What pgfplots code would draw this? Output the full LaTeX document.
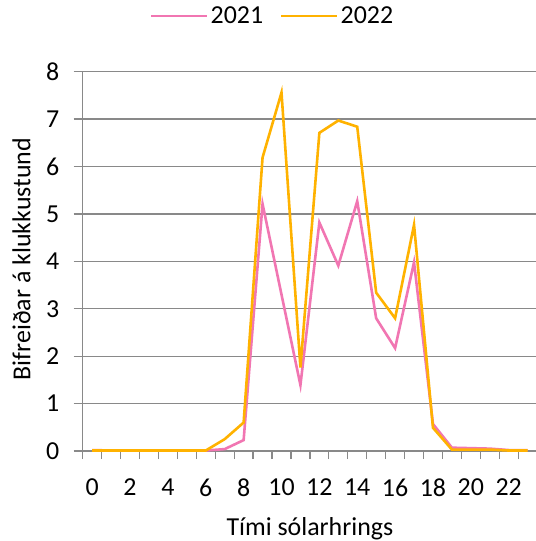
\documentclass[border=0pt]{standalone}
\usepackage{pgfplots}
\pgfplotsset{compat=1.18}
\usepackage{fontspec}
\setmainfont{Carlito}
\definecolor{pinkline}{RGB}{241,118,178}
\definecolor{orangeline}{RGB}{255,178,0}
\definecolor{gridgray}{RGB}{137,137,137}
\begin{document}
\begin{tikzpicture}
\path[use as bounding box] (-82.7bp,-90bp) rectangle (453.3bp,451bp);
\begin{axis}[
  at={(0,0)}, anchor=south west,
  scale only axis, width=454.4bp, height=379.3bp,
  xmin=-0.5, xmax=23.5, ymin=0, ymax=8,
  axis x line=bottom, axis y line=left,
  axis line style={gridgray, line width=1.3bp, -},
  xtick={0,2,...,22},
  minor xtick={-0.5,0.5,...,23.5},
  ytick={0,1,...,8},
  tick align=outside,
  major tick length=9bp, minor tick length=8bp,
  major x tick style={draw=none},
  every tick/.style={gridgray, line width=1.3bp},
  minor tick style={gridgray, line width=1.3bp},
  ymajorgrids, major grid style={gridgray, line width=1.3bp},
  tick label style={font=\fontsize{26}{30}\selectfont},
  /pgf/number format/assume math mode=true,
  yticklabel style={xshift=-11bp},
  xticklabel style={yshift=-15bp},
  xlabel={Tími sólarhrings},
  ylabel={Bifreiðar á klukkustund},
  label style={font=\fontsize{26}{30}\selectfont},
  xlabel style={at={(axis description cs:0.5,0)}, anchor=base, yshift=-84bp},
  ylabel style={at={(axis description cs:-0.1347,0.506)}, anchor=center},
  legend columns=2,
  legend style={at={(axis description cs:0.418,1.147)}, anchor=center, draw=none,
    font=\fontsize{26}{30}\selectfont,
    /tikz/every even column/.append style={column sep=15bp}},
  legend image code/.code={\path (0bp,0bp) -- (56bp,0bp); \draw[#1] (0bp,0bp) -- (53bp,0bp);},
  clip=false,
]
\addplot[pinkline, line width=2.6bp] coordinates {
(0,0.02) (1,0.01) (2,0.01) (3,0.01) (4,0.01) (5,0.01) (6,0.01) (7,0.04)
(8,0.23) (9,5.21) (10,3.3) (11,1.39) (12,4.82) (13,3.91) (14,5.27) (15,2.80)
(16,2.17) (17,3.98) (18,0.57) (19,0.07) (20,0.06) (21,0.05) (22,0.02) (23,0.02)};
\addlegendentry{2021}
\addplot[orangeline, line width=2.6bp] coordinates {
(0,0.01) (1,0.01) (2,0.01) (3,0.01) (4,0.01) (5,0.01) (6,0.01) (7,0.25)
(8,0.60) (9,6.19) (10,7.56) (11,1.76) (12,6.71) (13,6.97) (14,6.84) (15,3.34)
(16,2.80) (17,4.77) (18,0.49) (19,0.03) (20,0.03) (21,0.03) (22,0.01) (23,0.01)};
\addlegendentry{2022}
\end{axis}
\end{tikzpicture}
\end{document}
